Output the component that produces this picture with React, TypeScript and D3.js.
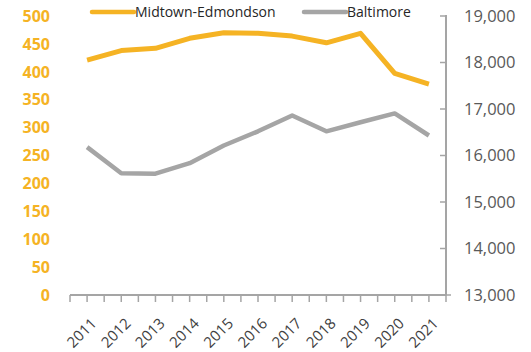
import React from "react";
import * as d3 from "d3";

const years = ["2011","2012","2013","2014","2015","2016","2017","2018","2019","2020","2021"];
const midtown = [421, 438, 442, 460, 470, 469, 464, 452, 469, 397, 378];
const baltimore = [16180, 15620, 15610, 15835, 16215, 16520, 16860, 16520, 16715, 16905, 16430];
const leftTicks = [0, 50, 100, 150, 200, 250, 300, 350, 400, 450, 500];
const rightTicks = [13000, 14000, 15000, 16000, 17000, 18000, 19000];
const seriesNames = ["Midtown-Edmondson", "Baltimore"];

const ORANGE = "#F5B324";
const GRAY = "#A5A5A5";
const FONT = "'Open Sans', sans-serif";

export default function App() {
  const W = 531, H = 352;
  const x0 = 70, x1 = 446;
  const yTop = 16, yBot = 295;
  const x = d3.scaleBand<string>().domain(years).range([x0, x1]);
  const cx = (d: string) => (x(d) as number) + x.bandwidth() / 2;
  const yL = d3.scaleLinear().domain([0, 500]).range([yBot, yTop]);
  const yR = d3.scaleLinear().domain([13000, 19000]).range([yBot, yTop]);

  const lineL = d3.line<number>().x((_, i) => cx(years[i])).y((v) => yL(v));
  const lineR = d3.line<number>().x((_, i) => cx(years[i])).y((v) => yR(v));

  const halfTicks = d3.range(0, years.length * 2 + 1).map((i) => x0 + (i * x.bandwidth()) / 2);

  return (
    <svg width={W} height={H} style={{ position: "absolute", left: 0, top: 0 }}>
      <rect width={W} height={H} fill="#fff" />
      {leftTicks.map((t) => (
        <text key={t} x={50} y={yL(t)} dy="0.36em" textAnchor="end" fill={ORANGE}
          fontFamily={FONT} fontWeight={700} fontSize={16}>{t}</text>
      ))}
      <line x1={x1} x2={x1} y1={yTop - 1} y2={yBot} stroke={GRAY} strokeWidth={2} />
      {rightTicks.map((t) => (
        <g key={t}>
          <line x1={x1 - 6} x2={x1} y1={yR(t)} y2={yR(t)} stroke={GRAY} strokeWidth={1.5} />
          <text x={464} y={yR(t)} dy="0.36em" fill="#595959" fontFamily={FONT} fontSize={16.5}>
            {d3.format(",")(t)}
          </text>
        </g>
      ))}
      <line x1={x1} x2={x1 + 5} y1={yBot} y2={yBot} stroke={GRAY} strokeWidth={1.5} />
      <line x1={x0} x2={x1} y1={yBot} y2={yBot} stroke={GRAY} strokeWidth={2} />
      {halfTicks.map((t, i) => (
        <line key={i} x1={t} x2={t} y1={yBot} y2={yBot + 7} stroke={GRAY} strokeWidth={1.5} />
      ))}
      {years.map((yv) => (
        <text key={yv} transform={`translate(${cx(yv) + 3},${yBot + 22}) rotate(-45)`}
          textAnchor="end" dy="0.7em" fill="#404040" fontFamily={FONT} fontSize={15}>{yv}</text>
      ))}
      <path d={lineR(baltimore) as string} fill="none" stroke={GRAY} strokeWidth={4.5} strokeLinejoin="round" />
      <path d={lineL(midtown) as string} fill="none" stroke={ORANGE} strokeWidth={5} strokeLinejoin="round" />
      <line x1={92} x2={134} y1={12} y2={12} stroke={ORANGE} strokeWidth={4.5} strokeLinecap="round" />
      <text x={135} y={12} dy="0.36em" fill="#262626" fontFamily={FONT} fontSize={14}>{seriesNames[0]}</text>
      <line x1={304} x2={346} y1={12} y2={12} stroke={GRAY} strokeWidth={4.5} strokeLinecap="round" />
      <text x={347} y={12} dy="0.36em" fill="#262626" fontFamily={FONT} fontSize={14}>{seriesNames[1]}</text>
    </svg>
  );
}
